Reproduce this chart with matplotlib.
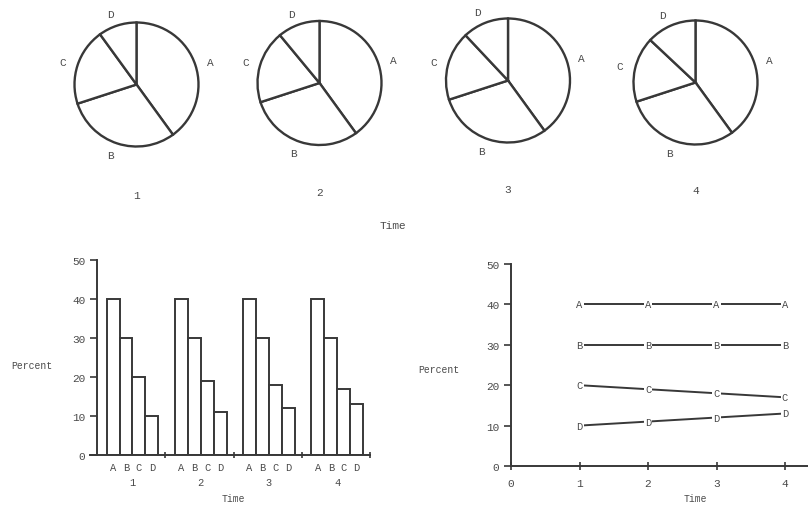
import matplotlib.pyplot as plt

plt.rcParams['font.family'] = ['Liberation Mono', 'DejaVu Sans Mono']
plt.rcParams['font.size'] = 8

INK = '#383838'
TXT = '#4a4a4a'

letters = ['A', 'B', 'C', 'D']
times = [1, 2, 3, 4]
share_a = [40, 40, 40, 40]
share_b = [30, 30, 30, 30]
share_c = [20, 19, 18, 17]
share_d = [10, 11, 12, 13]
series = [share_a, share_b, share_c, share_d]

W, H = 808, 506
fig = plt.figure(figsize=(W / 100, H / 100), dpi=100)


def px_axes(x0, y0, x1, y1):
    # pixel box (top-left origin) -> figure axes
    return fig.add_axes([x0 / W, 1 - y1 / H, (x1 - x0) / W, (y1 - y0) / H])


# ---- pies, one per time point
centers = [(136.5, 85.5), (319.5, 84), (508, 81.5), (695.5, 83.5)]
r = 62
span = 1.6
num_y = [196, 193, 190, 191]
for i, (cx, cy) in enumerate(centers):
    ax = px_axes(cx - span * r, cy - span * r, cx + span * r, cy + span * r)
    vals = [s[i] for s in series]
    ax.pie(vals, labels=letters, startangle=90, counterclock=False,
           labeldistance=1.19, colors=['white'] * 4,
           wedgeprops=dict(edgecolor=INK, linewidth=1.7),
           textprops=dict(color=TXT, fontsize=8))
    ax.set_xlim(-span, span)
    ax.set_ylim(-span, span)
    ax.set_aspect('equal')
    ax.axis('off')
    fig.text(cx / W, 1 - num_y[i] / H, str(times[i]), ha='center',
             va='center', color=TXT)

fig.text(393 / W, 1 - 226 / H, 'Time', ha='center', va='center', color=TXT)


def style_axes(ax):
    for s in ['top', 'right']:
        ax.spines[s].set_visible(False)
    for s in ['left', 'bottom']:
        ax.spines[s].set_color(INK)
        ax.spines[s].set_linewidth(1.4)
    ax.tick_params(colors=INK, labelcolor=TXT, width=1.2, labelsize=8)


# ---- grouped bars
axb = px_axes(97, 261, 370, 456)
bw = 0.19
start = 0.14
for g in range(4):
    for k in range(4):
        xc = g + start + bw * k + bw / 2
        axb.bar(xc, series[k][g], width=bw, color='white', edgecolor=INK,
                linewidth=1.4)
        axb.text(xc, -3, letters[k], ha='center', va='center',
                 color=TXT, fontsize=7.5, clip_on=False)
    axb.text(g + 0.52, -7, str(times[g]), ha='center', va='center',
             color=TXT, fontsize=7.5, clip_on=False)
axb.set_xlim(0, 4)
axb.set_ylim(0, 50)
axb.set_yticks([0, 10, 20, 30, 40, 50])
axb.set_xticks([1, 2, 3, 4])
axb.set_xticklabels([])
style_axes(axb)
axb.tick_params(axis='y', length=5)
axb.tick_params(axis='x', direction='inout', length=5)
axb.spines['bottom'].set_bounds(-0.1, 4)
fig.text(32 / W, 1 - 366 / H, 'Percent', ha='center', va='center',
         color=TXT, fontsize=7)
fig.text(233 / W, 1 - 499 / H, 'Time', ha='center', va='center',
         color=TXT, fontsize=7)

# ---- lines with letter markers
axl = px_axes(511, 265, 808, 467)
for k, s in enumerate(series):
    axl.plot(times, s, color=INK, linewidth=1.4)
    for t, v in zip(times, s):
        axl.text(t, v, letters[k], ha='center', va='center', color=TXT,
                 fontsize=7.5,
                 bbox=dict(facecolor='white', edgecolor='none', pad=1.0))
axl.set_xlim(0, 297 / 68.5)
axl.set_ylim(0, 50)
axl.set_xticks([0, 1, 2, 3, 4])
axl.set_yticks([0, 10, 20, 30, 40, 50])
style_axes(axl)
axl.tick_params(axis='x', direction='inout', length=6, pad=6)
axl.tick_params(axis='y', length=5)
fig.text(439 / W, 1 - 370 / H, 'Percent', ha='center', va='center',
         color=TXT, fontsize=7)
fig.text(695 / W, 1 - 499 / H, 'Time', ha='center', va='center',
         color=TXT, fontsize=7)

fig.savefig('out.png', dpi=100, facecolor='white')
